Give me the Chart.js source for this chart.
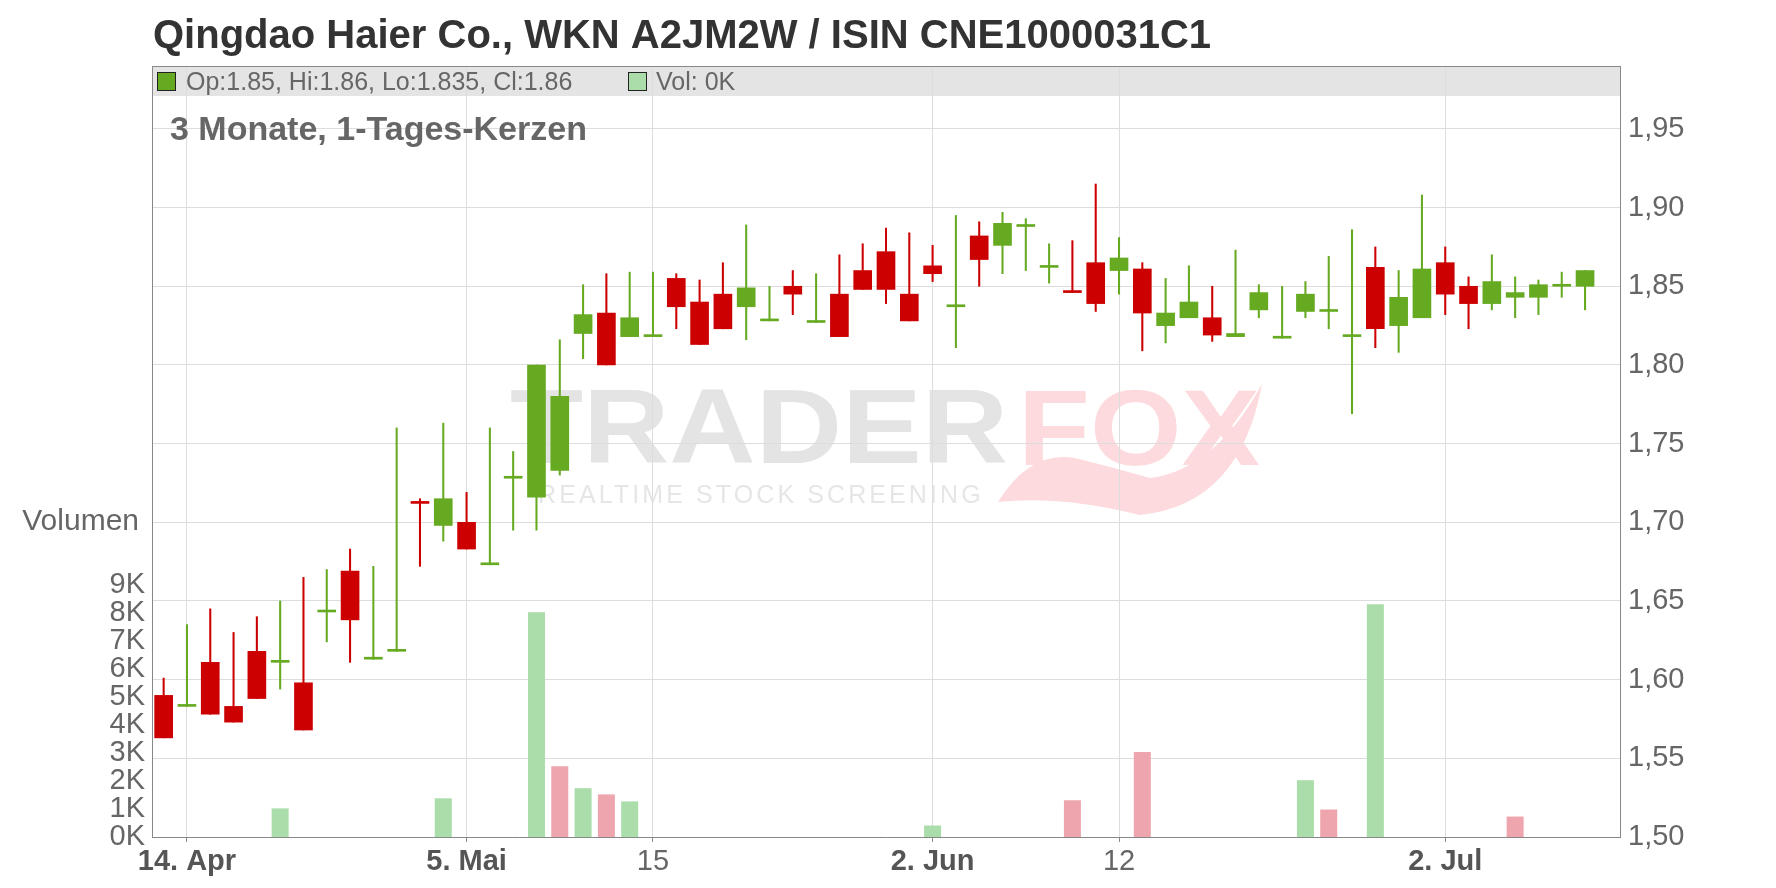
<!DOCTYPE html>
<html>
<head>
<meta charset="utf-8">
<title>Qingdao Haier Co.</title>
<script src="https://cdn.jsdelivr.net/npm/chart.js@4.4.1/dist/chart.umd.min.js"></script>
<style>
  html, body { margin: 0; padding: 0; background: #fff; }
  #wrap { width: 1776px; height: 888px; }
</style>
</head>
<body>
<div id="wrap"><canvas id="chart" width="1776" height="888"></canvas></div>
<script>
const title = 'Qingdao Haier Co., WKN A2JM2W / ISIN CNE1000031C1';
const subtitle = '3 Monate, 1-Tages-Kerzen';

// trading days (one candle each), plus one empty slot at the end
const dates = [
  '2025-04-11','2025-04-14','2025-04-15','2025-04-16','2025-04-17','2025-04-22','2025-04-23','2025-04-24','2025-04-25','2025-04-28',
  '2025-04-29','2025-04-30','2025-05-02','2025-05-05','2025-05-06','2025-05-07','2025-05-08','2025-05-09','2025-05-12','2025-05-13',
  '2025-05-14','2025-05-15','2025-05-16','2025-05-19','2025-05-20','2025-05-21','2025-05-22','2025-05-23','2025-05-26','2025-05-27',
  '2025-05-28','2025-05-29','2025-05-30','2025-06-02','2025-06-03','2025-06-04','2025-06-05','2025-06-06','2025-06-09','2025-06-10',
  '2025-06-11','2025-06-12','2025-06-13','2025-06-16','2025-06-17','2025-06-18','2025-06-19','2025-06-20','2025-06-23','2025-06-24',
  '2025-06-25','2025-06-26','2025-06-27','2025-06-30','2025-07-01','2025-07-02','2025-07-03','2025-07-04','2025-07-07','2025-07-08',
  '2025-07-09','2025-07-10'
];
const opens = [
  1.590,1.583,1.611,1.583,1.618,1.611,1.598,1.643,1.669,1.613,
  1.618,1.713,1.698,1.700,1.673,1.728,1.716,1.733,1.820,1.833,
  1.818,1.818,1.855,1.840,1.845,1.837,1.828,1.850,1.827,1.845,
  1.860,1.872,1.845,1.863,1.837,1.882,1.876,1.888,1.862,1.847,
  1.865,1.860,1.861,1.825,1.830,1.830,1.818,1.835,1.817,1.834,
  1.834,1.818,1.862,1.825,1.830,1.865,1.850,1.839,1.843,1.843,
  1.850,1.850
];
const highs = [
  1.601,1.635,1.645,1.630,1.640,1.650,1.665,1.670,1.683,1.672,
  1.760,1.715,1.763,1.719,1.760,1.745,1.800,1.816,1.851,1.858,
  1.859,1.859,1.858,1.854,1.865,1.889,1.850,1.860,1.858,1.870,
  1.877,1.887,1.884,1.876,1.895,1.891,1.897,1.893,1.877,1.879,
  1.915,1.881,1.865,1.855,1.863,1.850,1.873,1.851,1.850,1.853,
  1.869,1.886,1.875,1.860,1.908,1.875,1.856,1.870,1.856,1.854,
  1.859,1.860
];
const lows = [
  1.563,1.583,1.578,1.573,1.588,1.594,1.568,1.624,1.611,1.613,
  1.618,1.672,1.688,1.683,1.673,1.695,1.695,1.730,1.804,1.800,
  1.818,1.818,1.823,1.813,1.823,1.816,1.828,1.832,1.827,1.818,
  1.848,1.839,1.828,1.853,1.811,1.850,1.858,1.860,1.852,1.846,
  1.834,1.845,1.809,1.814,1.830,1.815,1.818,1.830,1.817,1.830,
  1.823,1.769,1.811,1.808,1.830,1.832,1.823,1.835,1.830,1.832,
  1.843,1.835
];
const closes = [
  1.563,1.583,1.578,1.573,1.588,1.611,1.568,1.643,1.638,1.613,
  1.618,1.712,1.715,1.683,1.673,1.728,1.800,1.780,1.832,1.800,
  1.830,1.818,1.837,1.813,1.823,1.849,1.828,1.845,1.827,1.818,
  1.848,1.848,1.828,1.858,1.837,1.867,1.890,1.888,1.862,1.846,
  1.839,1.868,1.833,1.833,1.840,1.819,1.820,1.846,1.817,1.845,
  1.834,1.818,1.823,1.843,1.861,1.845,1.839,1.853,1.846,1.851,
  1.851,1.860
];
const volumes = [
  0,0,0,0,0,1020,0,0,0,0,
  0,0,1380,0,0,0,8020,2520,1740,1520,
  1270,0,0,0,0,0,0,0,0,0,
  0,0,0,410,0,0,0,0,0,1310,
  0,0,3030,0,0,0,0,0,0,2020,
  980,0,8300,0,0,0,0,0,730,0,
  0,0
];

const priceTicks = [1.50, 1.55, 1.60, 1.65, 1.70, 1.75, 1.80, 1.85, 1.90, 1.95];
const volumeTicks = [0, 1000, 2000, 3000, 4000, 5000, 6000, 7000, 8000, 9000];
const tickDates = ['2025-04-14', '2025-05-05', '2025-05-15', '2025-06-02', '2025-06-12', '2025-07-02'];
const tickTexts = ['14. Apr', '5. Mai', '15', '2. Jun', '12', '2. Jul'];

const FONT = '"Liberation Sans", Arial, Helvetica, sans-serif';
const GREEN = '#66aa22';
const RED = '#cc0000';
const VOL_GREEN = '#aaddaa';
const VOL_RED = '#eea5ad';

Chart.defaults.font.family = FONT;

const labels = dates.concat(['2025-07-11']);
const bodies = opens.map((o, i) => [o, closes[i]]);
const wicks = lows.map((l, i) => [l, highs[i]]);
const candleColors = opens.map((o, i) => closes[i] < o ? RED : GREEN);
const volColors = closes.map((c, i) => (i > 0 && c < closes[i - 1]) ? VOL_RED : VOL_GREEN);

function tickText(idx) {
    const k = tickDates.indexOf(labels[idx]);
    return k >= 0 ? tickTexts[k] : '';
}
function isMonthTick(idx) {
    return /[A-Za-z]/.test(tickText(idx));
}

function drawFitted(ctx, text, font, color, x, y, width) {
    ctx.save();
    ctx.font = font;
    ctx.fillStyle = color;
    const w = ctx.measureText(text).width;
    ctx.translate(x, y);
    ctx.scale(width / w, 1);
    ctx.fillText(text, 0, 0);
    ctx.restore();
}

const decorations = {
    id: 'decorations',
    beforeDraw(chart) {
        const { ctx, chartArea: a } = chart;
        ctx.save();
        // legend band
        ctx.fillStyle = '#e4e4e4';
        ctx.fillRect(a.left, a.top, a.right - a.left, 30);

        // watermark
        ctx.textBaseline = 'alphabetic';
        drawFitted(ctx, 'TRADER', 'bold 105px ' + FONT, '#e4e4e4', 510, 463, 498);
        drawFitted(ctx, 'FOX', 'bold 108px ' + FONT, '#fddadd', 1018, 465, 242);
        // fox tail
        ctx.fillStyle = '#fddadd';
        ctx.beginPath();
        ctx.moveTo(998, 502);
        ctx.quadraticCurveTo(1030, 450, 1075, 458);
        ctx.quadraticCurveTo(1115, 468, 1150, 478);
        ctx.quadraticCurveTo(1215, 470, 1262, 384);
        ctx.quadraticCurveTo(1240, 505, 1140, 515);
        ctx.quadraticCurveTo(1060, 495, 998, 502);
        ctx.fill();

        ctx.font = '25px ' + FONT;
        ctx.fillStyle = '#e6e6e6';
        const txt = 'REALTIME STOCK SCREENING';
        const w0 = ctx.measureText(txt).width;
        ctx.letterSpacing = ((442 - w0) / (txt.length - 1)).toFixed(1) + 'px';
        ctx.fillText(txt, 538, 503);
        ctx.restore();
    },
    afterDraw(chart) {
        const { ctx, chartArea: a } = chart;
        const last = closes.length - 1;
        ctx.save();

        // top frame line
        ctx.strokeStyle = '#888';
        ctx.lineWidth = 1;
        ctx.beginPath();
        ctx.moveTo(a.left, a.top + 0.5);
        ctx.lineTo(a.right, a.top + 0.5);
        ctx.stroke();

        // title
        ctx.textBaseline = 'alphabetic';
        ctx.textAlign = 'left';
        ctx.fillStyle = '#333';
        ctx.font = 'bold 40px ' + FONT;
        ctx.fillText(title, 153, 48);

        // legend
        ctx.fillStyle = GREEN;
        ctx.fillRect(157, 72, 18, 18);
        ctx.strokeStyle = '#222';
        ctx.strokeRect(157.5, 72.5, 18, 18);
        ctx.fillStyle = VOL_GREEN;
        ctx.fillRect(628, 72, 18, 18);
        ctx.strokeRect(628.5, 72.5, 18, 18);

        ctx.font = '25px ' + FONT;
        ctx.fillStyle = '#666';
        ctx.fillText('Op:' + opens[last] + ', Hi:' + highs[last] + ', Lo:' + lows[last] + ', Cl:' + closes[last], 186, 90);
        ctx.fillText('Vol: ' + (volumes[last] / 1000) + 'K', 656, 90);

        // subtitle
        ctx.font = 'bold 34px ' + FONT;
        ctx.fillText(subtitle, 170, 140);

        // volume axis name
        ctx.font = '30px ' + FONT;
        ctx.textAlign = 'right';
        ctx.textBaseline = 'middle';
        ctx.fillText('Volumen', 139, 522);
        ctx.restore();
    }
};

const ctx = document.getElementById('chart').getContext('2d');
new Chart(ctx, {
    type: 'bar',
    data: {
        labels: labels,
        datasets: [
            {
                label: 'Kerzen',
                data: bodies,
                backgroundColor: candleColors,
                yAxisID: 'price',
                barThickness: 18,
                minBarLength: 2,
                grouped: false,
                order: 0
            },
            {
                label: 'Dochte',
                data: wicks,
                backgroundColor: candleColors,
                yAxisID: 'price',
                barThickness: 1.4,
                grouped: false,
                order: 1
            },
            {
                label: 'Volumen',
                data: volumes,
                backgroundColor: volColors,
                yAxisID: 'vol',
                barThickness: 17,
                inflateAmount: 0,
                grouped: false,
                order: 2
            }
        ]
    },
    options: {
        responsive: false,
        devicePixelRatio: 1,
        animation: false,
        events: [],
        layout: { padding: { top: 66, left: 0, right: 0, bottom: 0 } },
        plugins: {
            legend: { display: false },
            title: { display: false },
            tooltip: { enabled: false }
        },
        scales: {
            x: {
                type: 'category',
                offset: true,
                afterBuildTicks: (scale) => {
                    scale.ticks = tickDates.map(d => ({ value: labels.indexOf(d) }));
                },
                afterFit: (scale) => { scale.height = 51; },
                grid: { offset: false, color: '#dddddd', tickColor: '#888', tickLength: 5 },
                border: { color: '#888' },
                ticks: {
                    autoSkip: false,
                    maxRotation: 0,
                    padding: 3,
                    callback: (value) => tickText(value),
                    font: (c) => ({ family: FONT, size: 29, weight: isMonthTick(c.tick ? c.tick.value : 0) ? 'bold' : 'normal' }),
                    color: (c) => isMonthTick(c.tick ? c.tick.value : 0) ? '#555' : '#666'
                }
            },
            price: {
                type: 'linear',
                position: 'right',
                min: 1.50,
                max: 1.99,
                afterBuildTicks: (scale) => { scale.ticks = priceTicks.map(v => ({ value: v })); },
                afterFit: (scale) => { scale.width = 156; },
                grid: { color: '#dddddd', drawTicks: false },
                border: { color: '#888' },
                ticks: {
                    padding: 8,
                    font: { size: 29 },
                    color: '#666',
                    callback: (v) => v.toFixed(2).replace('.', ',')
                }
            },
            vol: {
                type: 'linear',
                position: 'left',
                min: 0,
                max: 27500,
                afterBuildTicks: (scale) => { scale.ticks = volumeTicks.map(v => ({ value: v })); },
                afterFit: (scale) => { scale.width = 152; },
                grid: { display: false, drawTicks: false },
                border: { color: '#888' },
                ticks: {
                    padding: 7,
                    font: { size: 29 },
                    color: '#666',
                    callback: (v) => (v / 1000) + 'K'
                }
            }
        }
    },
    plugins: [decorations]
});
</script>
</body>
</html>
